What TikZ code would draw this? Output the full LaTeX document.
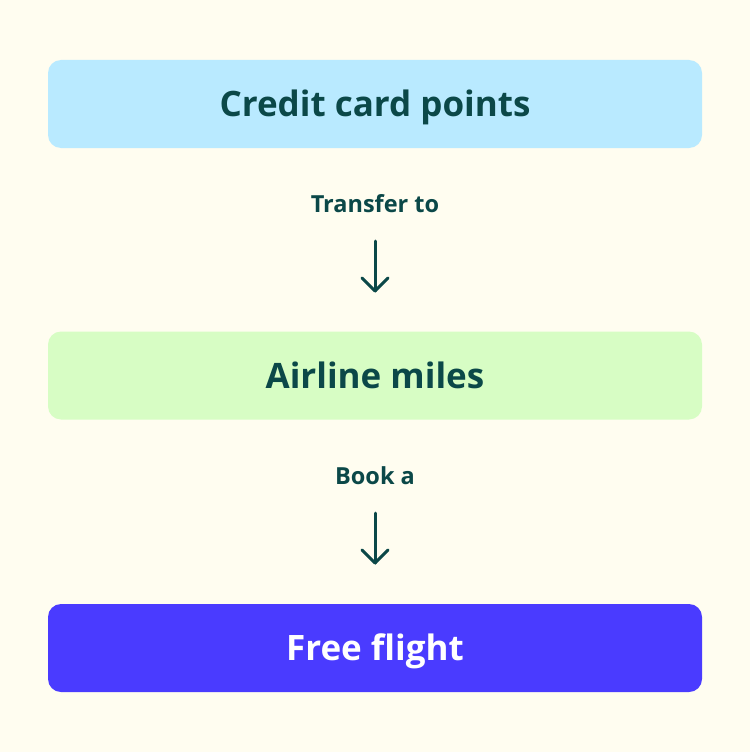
\documentclass[tikz,border=0pt]{standalone}
\usepackage{fontspec}
\setmainfont{Open Sans}
\definecolor{bg}{HTML}{FFFDF0}
\definecolor{ink}{HTML}{0B4848}
\definecolor{boxa}{HTML}{B9EAFF}
\definecolor{boxb}{HTML}{D7FDC4}
\definecolor{boxc}{HTML}{4A3BFF}
\begin{document}
\begin{tikzpicture}[x=1pt,y=-1pt,
  box/.style={rounded corners=13pt,minimum width=654pt,minimum height=88pt,inner sep=0pt,
    text height=25pt,text depth=0pt,
    font=\fontsize{35}{40}\selectfont\bfseries},
  lbl/.style={text=ink,font=\fontsize{23.5}{27}\selectfont\bfseries,inner sep=0pt,
    text height=17pt,text depth=0pt},
  arr/.style={draw=ink,line width=3pt,line cap=round,line join=round}]
\fill[bg] (0,0) rectangle (750,752);
\useasboundingbox (0,0) rectangle (750,752);
\node[box,fill=boxa,text=ink] (b1) at (375,104) {Credit card points};
\node[lbl] (l1) at (375,203.5) {Transfer to};
\node[box,fill=boxb,text=ink] (b2) at (375,375.5) {Airline miles};
\node[lbl] (l2) at (375,475.5) {Book a};
\node[box,fill=boxc,text=white] (b3) at (375,648) {Free flight};
\coordinate (a1s) at (375,241);
\coordinate (a1e) at (375,291);
\coordinate (a1l) at (362,278);
\coordinate (a1r) at (388,278);
\coordinate (a2s) at (375,513);
\coordinate (a2e) at (375,563);
\coordinate (a2l) at (362,550);
\coordinate (a2r) at (388,550);
\draw[arr] (a1s) -- (a1e);
\draw[arr] (a1l) -- (a1e) -- (a1r);
\draw[arr] (a2s) -- (a2e);
\draw[arr] (a2l) -- (a2e) -- (a2r);
\end{tikzpicture}
\end{document}
